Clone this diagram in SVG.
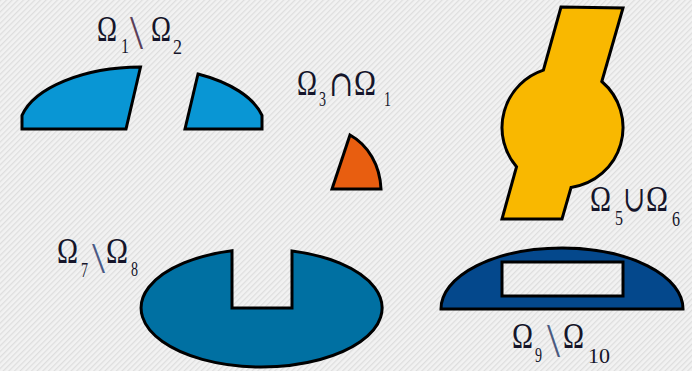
<svg xmlns="http://www.w3.org/2000/svg" width="692" height="371" viewBox="0 0 692 371">
<defs>
<pattern id="bg" width="4" height="4" patternUnits="userSpaceOnUse" patternTransform="rotate(45)">
<rect width="4" height="4" fill="#f2f2f2"/>
<rect width="1.3" height="4" fill="#dedede"/>
</pattern>
<style>
.sh{stroke:#000;stroke-width:3;stroke-linejoin:miter}
.t{font-family:"Liberation Serif","DejaVu Serif",serif;fill:#15152a}
.om{font-size:35px}
.sub{font-size:21px}
.bs{font-size:48px;fill:#5a3f5a}
.op{font-family:"DejaVu Serif","Liberation Serif",serif;font-size:36px;fill:#15152a}
</style>
</defs>
<rect width="692" height="371" fill="url(#bg)"/>

<g id="shape-1-2">
<path class="sh" fill="#0996d4" d="M22,129 L22,115.4 A123 62 0 0 1 140.5,67 L126,129 Z"/>
<path class="sh" fill="#0996d4" d="M198,74 A123 62 0 0 1 262,115.4 L262,129 L185,129 Z"/>
<text class="t om" x="97" y="41" textLength="20" lengthAdjust="spacingAndGlyphs">Ω</text>
<text class="t sub" x="121" y="53" textLength="8" lengthAdjust="spacingAndGlyphs">1</text>
<text class="t bs" x="130" y="49" textLength="13" lengthAdjust="spacingAndGlyphs">\</text>
<text class="t om" x="151" y="41" textLength="20" lengthAdjust="spacingAndGlyphs">Ω</text>
<text class="t sub" x="173" y="54" textLength="9" lengthAdjust="spacingAndGlyphs">2</text>
</g>

<g id="shape-3-1">
<path class="sh" fill="#e85e10" d="M350,135 C368,145 380,165 381,189 L332,189 Z"/>
<text class="t om" x="297" y="95" textLength="20" lengthAdjust="spacingAndGlyphs">Ω</text>
<text class="t sub" x="319" y="106" textLength="7" lengthAdjust="spacingAndGlyphs">3</text>
<text class="op" x="329" y="96" textLength="24" lengthAdjust="spacingAndGlyphs">∩</text>
<text class="t om" x="354" y="95" textLength="22" lengthAdjust="spacingAndGlyphs">Ω</text>
<text class="t sub" x="384" y="106" textLength="7" lengthAdjust="spacingAndGlyphs">1</text>
</g>

<g id="shape-5-6">
<path class="sh" fill="#f9b800" d="M561,7 L623,8 L601.8,81.5 A60.5 60.5 0 0 1 571.1,187.4 L562,219 L502,219 L516.5,166.8 A60.5 60.5 0 0 1 543.4,70.1 Z"/>
<text class="t om" x="590" y="211" textLength="21" lengthAdjust="spacingAndGlyphs">Ω</text>
<text class="t sub" x="615" y="225" textLength="8" lengthAdjust="spacingAndGlyphs">5</text>
<text class="op" x="623" y="211" textLength="22" lengthAdjust="spacingAndGlyphs">∪</text>
<text class="t om" x="646" y="211" textLength="22" lengthAdjust="spacingAndGlyphs">Ω</text>
<text class="t sub" x="672" y="226" textLength="8" lengthAdjust="spacingAndGlyphs">6</text>
</g>

<g id="shape-7-8">
<path class="sh" fill="#0070a2" d="M232,250.8 L232,308 L292,308 L292,250.9 A120.5 59 0 1 1 232,250.8 Z"/>
<text class="t om" x="57" y="263" textLength="21" lengthAdjust="spacingAndGlyphs">Ω</text>
<text class="t sub" x="81" y="277" textLength="7" lengthAdjust="spacingAndGlyphs">7</text>
<text class="t bs" x="92" y="273" style="font-size:44px;fill:#4a5a86" textLength="13" lengthAdjust="spacingAndGlyphs">\</text>
<text class="t om" x="106" y="263" textLength="22" lengthAdjust="spacingAndGlyphs">Ω</text>
<text class="t sub" x="131" y="276" textLength="7" lengthAdjust="spacingAndGlyphs">8</text>
</g>

<g id="shape-9-10">
<path class="sh" fill="#04488c" fill-rule="evenodd" d="M441,309 A121 61 0 0 1 683,309 Z M502,262 L623,262 L623,296 L502,296 Z"/>
<text class="t om" x="512" y="348" textLength="21" lengthAdjust="spacingAndGlyphs">Ω</text>
<text class="t sub" x="535" y="362" textLength="7" lengthAdjust="spacingAndGlyphs">9</text>
<text class="t bs" x="547" y="357" style="fill:#4a5a80" textLength="13" lengthAdjust="spacingAndGlyphs">\</text>
<text class="t om" x="563" y="348" textLength="21" lengthAdjust="spacingAndGlyphs">Ω</text>
<text class="t sub" x="588" y="363" textLength="22" lengthAdjust="spacingAndGlyphs">10</text>
</g>
</svg>
